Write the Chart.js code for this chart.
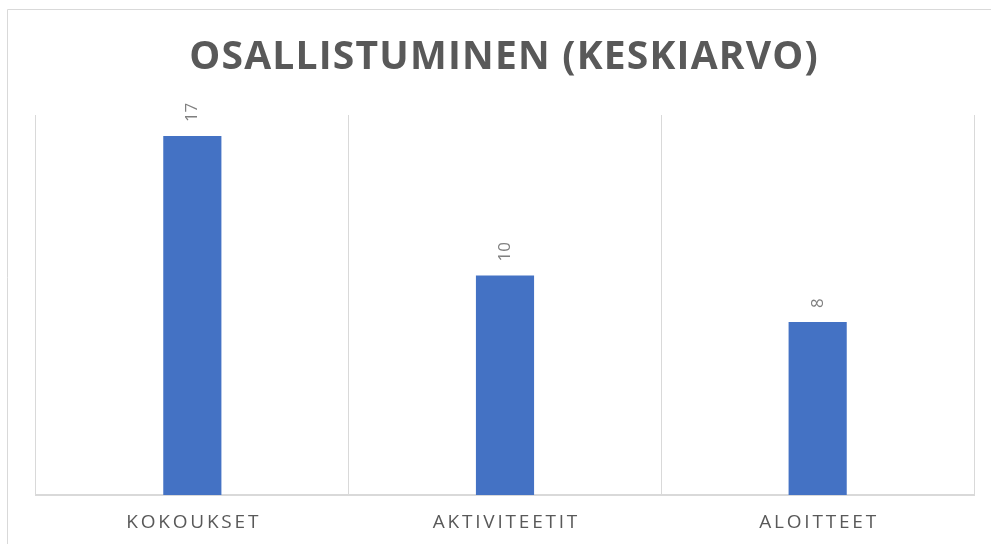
<!DOCTYPE html>
<html>
<head>
<meta charset="utf-8">
<script src="https://cdn.jsdelivr.net/npm/chart.js@4/dist/chart.umd.min.js"></script>
<style>
html,body{margin:0;padding:0;background:#fff;}
#wrap{position:absolute;left:0;top:0;width:991px;height:544px;}
</style>
</head>
<body>
<div id="wrap"><canvas id="c" width="991" height="544"></canvas></div>
<script>
const titleText = "OSALLISTUMINEN (KESKIARVO)";
const categories = ["KOKOUKSET", "AKTIVITEETIT", "ALOITTEET"];
const values = [17, 10.4, 8.2];
const axisMax = 18;

const decor = {
  id: 'decor',
  beforeDraw(chart) {
    const ctx = chart.ctx;
    ctx.save();
    ctx.strokeStyle = '#d9d9d9';
    ctx.lineWidth = 1;
    ctx.beginPath();
    ctx.moveTo(7.5, chart.height + 5);
    ctx.lineTo(7.5, 9.5);
    ctx.lineTo(chart.width + 5, 9.5);
    ctx.stroke();
    ctx.restore();
  },
  afterDraw(chart) {
    const ctx = chart.ctx;
    const xs = chart.scales.x;
    ctx.save();
    // title
    ctx.fillStyle = '#595959';
    ctx.font = 'bold 39px "Open Sans"';
    ctx.textAlign = 'center';
    ctx.textBaseline = 'middle';
    const ts = 1.2;
    ctx.letterSpacing = ts + 'px';
    ctx.fillText(titleText, chart.width / 2 + ts / 2 + 8, 58);
    // category labels
    ctx.font = '19px "Open Sans"';
    const ls = 2.8;
    ctx.letterSpacing = ls + 'px';
    categories.forEach((c, i) => {
      ctx.fillText(c, xs.getPixelForValue(i) + ls / 2, 523);
    });
    ctx.letterSpacing = '0px';
    // data labels
    const meta = chart.getDatasetMeta(0);
    ctx.font = '17px "Open Sans"';
    ctx.fillStyle = '#7f7f7f';
    ctx.textAlign = 'left';
    ctx.textBaseline = 'middle';
    meta.data.forEach((bar, i) => {
      ctx.save();
      ctx.translate(bar.x, bar.y - 14);
      ctx.rotate(-Math.PI / 2);
      ctx.fillText(String(Math.round(values[i])), 0, 0);
      ctx.restore();
    });
    ctx.restore();
  }
};

new Chart(document.getElementById('c'), {
  type: 'bar',
  data: {
    labels: categories,
    datasets: [{
      data: values,
      backgroundColor: '#4472c4',
      borderWidth: 0,
      barPercentage: 0.186,
      categoryPercentage: 1
    }]
  },
  options: {
    responsive: false,
    animation: false,
    events: [],
    layout: { padding: { left: 36, right: 17, top: 115, bottom: 49 } },
    plugins: { legend: { display: false }, title: { display: false }, tooltip: { enabled: false } },
    scales: {
      x: {
        offset: true,
        grid: { display: true, offset: true, color: '#d9d9d9', lineWidth: 1, drawTicks: false },
        border: { display: true, color: '#d9d9d9', width: 2 },
        ticks: { display: false }
      },
      y: {
        display: false,
        min: 0,
        max: axisMax
      }
    }
  },
  plugins: [decor]
});
</script>
</body>
</html>
